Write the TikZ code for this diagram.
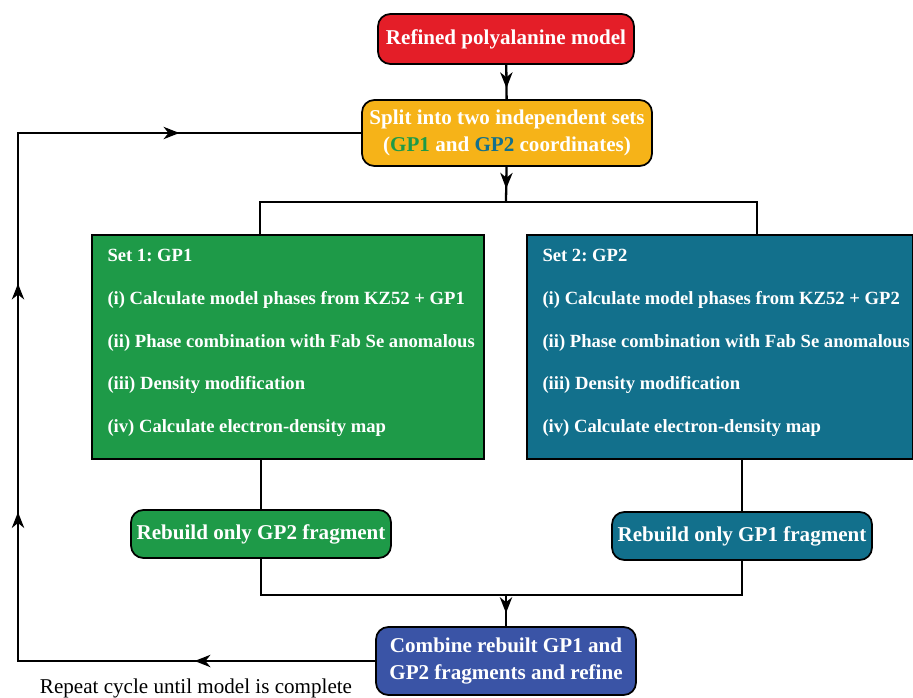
\documentclass[tikz,border=0pt]{standalone}
\usepackage{fontspec}
\setmainfont{Liberation Serif}
\usepackage{xcolor}
\usepackage{tikz}
\usetikzlibrary{arrows.meta,positioning,calc,decorations.markings}
\frenchspacing

\definecolor{boxred}{HTML}{E41E28}
\definecolor{boxyellow}{HTML}{F6B318}
\definecolor{gpgreen}{HTML}{1E9A48}
\definecolor{gpteal}{HTML}{12708C}
\definecolor{boxblue}{HTML}{3A54A6}

\begin{document}
\begin{tikzpicture}[x=0.02cm, y=-0.02cm,
        flowtip/.tip={Stealth[length=9pt,width=7pt,inset=2.8pt]},
        box/.style={draw=black, line width=1pt, rounded corners=7pt, text=white,
            font=\bfseries\fontsize{12}{15.5}\selectfont, align=center, inner sep=2pt},
        setbox/.style={draw=black, line width=1pt, minimum height=4.48cm},
        settext/.style={text=white, font=\bfseries\fontsize{10.6}{24.3}\selectfont,
            align=left, inner sep=0pt, anchor=north west},
        link/.style={line width=1.3pt},
        midarrow/.style={postaction={decorate, decoration={markings,
            mark=at position #1 with {\arrow{flowtip}}}}}]
    \useasboundingbox (0,0) rectangle (913,697);

    % Start and split
    \node[box, fill=boxred, minimum width=5.12cm, minimum height=1cm] (model) at (506,39) {Refined polyalanine model};
    \node[box, fill=boxyellow, minimum width=5.8cm, minimum height=1.32cm] (split) at (507,133)
        {Split into two independent sets\\(\textcolor{gpgreen}{GP1} and \textcolor{gpteal}{GP2} coordinates)};

    % The two sets
    \node[setbox, fill=gpgreen, minimum width=7.84cm] (set1) at (288,347) {};
    \node[settext] (list1) at ([shift={(0.32cm,-0.3cm)}]set1.north west)
        {Set 1: GP1\\(i) Calculate model phases from KZ52 + GP1\\(ii) Phase combination with Fab Se anomalous\\(iii) Density modification\\(iv) Calculate electron-density map};
    \node[setbox, fill=gpteal, minimum width=7.72cm] (set2) at (720,347) {};
    \node[settext] (list2) at ([shift={(0.32cm,-0.3cm)}]set2.north west)
        {Set 2: GP2\\(i) Calculate model phases from KZ52 + GP2\\(ii) Phase combination with Fab Se anomalous\\(iii) Density modification\\(iv) Calculate electron-density map};

    % Rebuild and combine
    \node[box, fill=gpgreen, minimum width=5.2cm, minimum height=0.96cm] (redo1) at (261,534) {Rebuild only GP2 fragment};
    \node[box, fill=gpteal, minimum width=5.2cm, minimum height=0.96cm] (redo2) at (742,536) {Rebuild only GP1 fragment};
    \node[box, fill=boxblue, minimum width=5.2cm, minimum height=1.36cm] (combine) at (506,661)
        {Combine rebuilt GP1 and\\GP2 fragments and refine};
    \node[font=\fontsize{12}{14}\selectfont, anchor=base] (repeat) at (196,693) {Repeat cycle until model is complete};

    \coordinate (fork) at (506,202);
    \coordinate (forkL) at (260,202);
    \coordinate (forkR) at (757,202);
    \coordinate (join) at (506,595);
    \coordinate (loopB) at (18,661);
    \coordinate (loopT) at (18,133);

    % Connectors
    \draw[link, midarrow=0.68] (model) -- (split);
    \draw[link, midarrow=0.62] (split) -- (fork);
    \draw[link] (forkL |- set1.north) -- (forkL) -- (forkR) -- (forkR |- set2.north);
    \draw[link] (redo1.north |- set1.south) -- (redo1.north);
    \draw[link] (redo2.north |- set2.south) -- (redo2.north);
    \draw[link] (redo1.south) -- (redo1.south |- join) -- (redo2.south |- join) -- (redo2.south);
    \draw[link, midarrow=0.58] (join) -- (combine);

    % Loop back
    \draw[link, postaction={decorate, decoration={markings,
            mark=at position 0.147 with {\arrow{flowtip}},
            mark=at position 0.412 with {\arrow{flowtip}},
            mark=at position 0.598 with {\arrow{flowtip}},
            mark=at position 0.852 with {\arrow{flowtip}}}}]
        (combine.west) -- (loopB) -- (loopT) -- (split.west);
\end{tikzpicture}
\end{document}
